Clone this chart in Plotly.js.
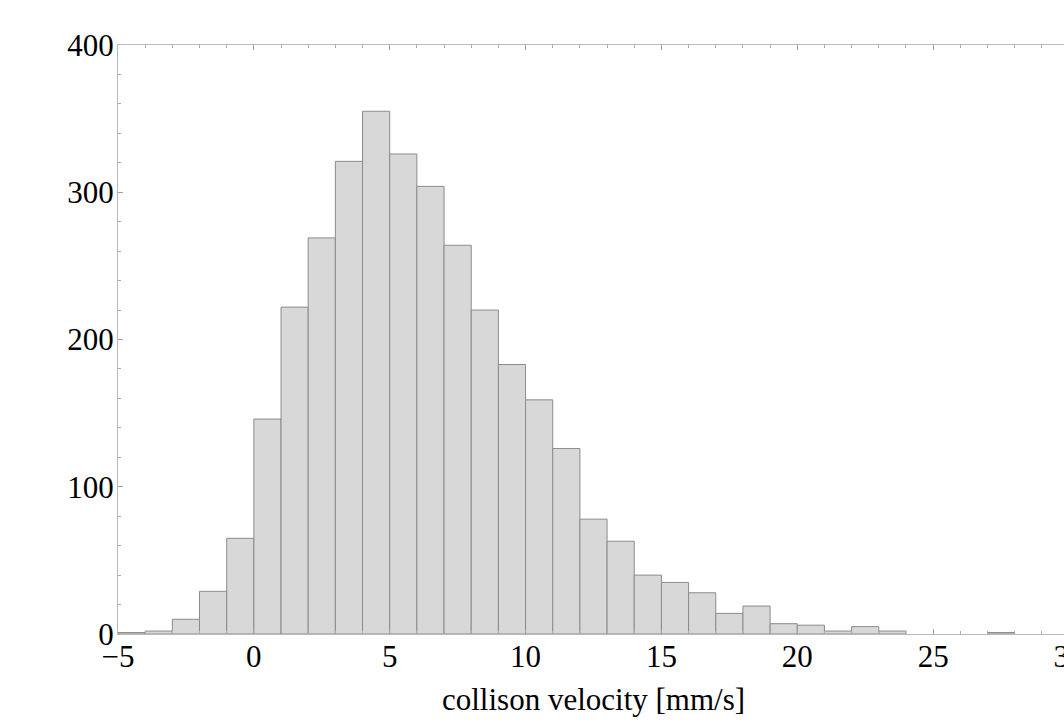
<!DOCTYPE html>
<html>
<head>
<meta charset="utf-8">
<script src="https://cdn.plot.ly/plotly-3.0.1.min.js"></script>
<style>
html, body { margin: 0; padding: 0; overflow: hidden; background: #fff; }
#chart { width: 1100px; height: 722px; }
</style>
</head>
<body>
<div id="chart"></div>
<script>
// Histogram bins (left edges, width 1) and counts
var binLeft = [-5, -4, -3, -2, -1, 0, 1, 2, 3, 4, 5, 6, 7, 8, 9, 10, 11, 12, 13, 14, 15, 16, 17, 18, 19, 20, 21, 22, 23, 27];
var counts  = [1, 2, 10, 29, 65, 146, 222, 269, 321, 355, 326, 304, 264, 220, 183, 159, 126, 78, 63, 40, 35, 28, 14, 19, 7, 6, 2, 5, 2, 1];
var binWidth = 1;
var xTickVals = [-5, 0, 5, 10, 15, 20, 25, 30];
var yTickVals = [0, 100, 200, 300, 400];
var xTitle = "collison velocity [mm/s]";

var serif = 'Liberation Serif, Times New Roman, serif';

var trace = {
  type: 'bar',
  x: binLeft,
  y: counts,
  width: binLeft.map(function(){ return binWidth; }),
  offset: 0,
  marker: { color: 'rgb(216,216,216)', line: { color: 'rgb(140,140,140)', width: 1 } },
  hoverinfo: 'x+y'
};

var axisCommon = {
  showgrid: false,
  zeroline: false,
  showline: true,
  linecolor: 'rgb(185,185,185)',
  linewidth: 1,
  mirror: 'ticks',
  ticks: 'inside',
  ticklen: 5,
  tickwidth: 1,
  tickcolor: 'rgb(160,160,160)',
  ticklabeloverflow: 'allow',
  tickfont: { family: serif, size: 31, color: '#000' }
};

var layout = {
  width: 1100,
  height: 722,
  margin: { l: 118, r: 31, t: 45, b: 88 },
  paper_bgcolor: '#fff',
  plot_bgcolor: '#fff',
  showlegend: false,
  bargap: 0,
  xaxis: Object.assign({}, axisCommon, {
    range: [-5, 30],
    tickmode: 'array',
    tickvals: xTickVals,
    ticktext: xTickVals.map(function(v){ return v < 0 ? '\u2212' + Math.abs(v) : String(v); }),
    ticklabelstandoff: -5,
    minor: { dtick: 1, tick0: 0, ticks: 'inside', ticklen: 3, tickcolor: 'rgb(170,170,170)', tickwidth: 1 }
  }),
  yaxis: Object.assign({}, axisCommon, {
    range: [0, 400],
    tickmode: 'array',
    tickvals: yTickVals,
    ticklabelstandoff: -3,
    minor: { dtick: 20, tick0: 0, ticks: 'inside', ticklen: 3, tickcolor: 'rgb(170,170,170)', tickwidth: 1 }
  }),
  annotations: [{
    text: xTitle,
    xref: 'x', yref: 'paper',
    x: 12.5, y: -0.078,
    xanchor: 'center', yanchor: 'top',
    showarrow: false,
    font: { family: serif, size: 31, color: '#000' }
  }]
};

Plotly.newPlot('chart', [trace], layout, { displayModeBar: false, staticPlot: true });
</script>
</body>
</html>
